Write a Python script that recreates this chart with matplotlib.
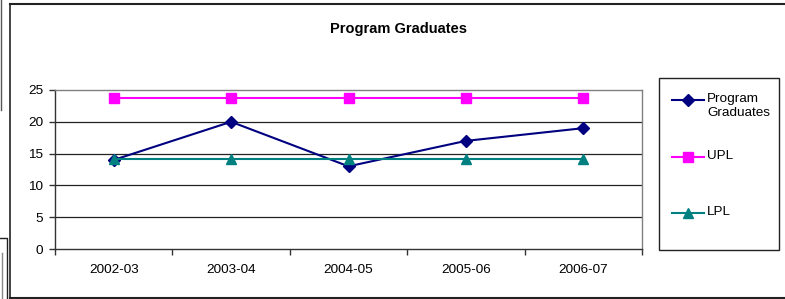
import matplotlib
matplotlib.use('Agg')
import matplotlib.pyplot as plt
from matplotlib.lines import Line2D
from matplotlib.patches import Rectangle

plt.rcParams['font.family'] = ['Liberation Sans', 'DejaVu Sans']

years = ["2002-03", "2003-04", "2004-05", "2005-06", "2006-07"]
graduates = [14, 20, 13, 17, 19]
upl = [23.7, 23.7, 23.7, 23.7, 23.7]
lpl = [14.2, 14.2, 14.2, 14.2, 14.2]

W, H = 785, 299
fig = plt.figure(figsize=(W / 100, H / 100), dpi=100)

def fx(px):
    return px / W

def fy(py):
    return 1 - py / H

# outer chart frame (right edge cut off)
fig.add_artist(Line2D([fx(10), fx(10)], [fy(4), fy(297.5)], color='#222222', lw=1.2))
fig.add_artist(Line2D([fx(10), 1.0], [fy(4), fy(4)], color='#222222', lw=1.5))
fig.add_artist(Line2D([fx(10), 1.0], [fy(297.5), fy(297.5)], color='#222222', lw=1.5))
# remnants of other boxes at left edge
fig.add_artist(Line2D([fx(1), fx(1)], [1.0, fy(110)], color='#555555', lw=1))
fig.add_artist(Line2D([0, fx(7), fx(7)], [fy(238), fy(238), 0], color='#222222', lw=1))
fig.add_artist(Line2D([fx(2), fx(2)], [fy(253), 0], color='#888888', lw=1))

ax = fig.add_axes([fx(55), fy(249), fx(642) - fx(55), (249 - 90) / H])
x = range(len(years))
ax.plot(x, graduates, color='#000080', lw=1.5, marker='D', ms=6, label='Program\nGraduates')
ax.plot(x, upl, color='#FF00FF', lw=1.5, marker='s', ms=6.8, label='UPL')
ax.plot(x, lpl, color='#008080', lw=1.5, marker='^', ms=7.5, label='LPL')

ax.set_xlim(-0.5, 4.5)
ax.set_ylim(0, 25)
ax.set_yticks([0, 5, 10, 15, 20, 25])
ax.set_xticks(list(x))
ax.set_xticklabels(years)
ax.set_xticks([i - 0.5 for i in range(6)], minor=True)
ax.tick_params(axis='x', which='major', length=0, pad=11, labelsize=9.7)
ax.tick_params(axis='x', which='minor', length=4, width=1, direction='out', color='#333333')
ax.tick_params(axis='y', length=4.5, width=1, direction='out', color='#333333', labelsize=9.7, pad=4)
for v in [5, 10, 15, 20]:
    ax.axhline(v, color='#222222', lw=0.9, zorder=0)
ax.spines['top'].set_color('#808080')
ax.spines['right'].set_color('#808080')
ax.spines['left'].set_color('#333333')
ax.spines['bottom'].set_color('#333333')
for s in ax.spines.values():
    s.set_linewidth(1)

fig.text(fx(398), fy(29), "Program Graduates", ha='center', va='center',
         fontsize=10.5, fontweight='bold')

# legend box drawn like the spreadsheet one
fig.add_artist(Rectangle((fx(659), fy(250)), fx(779) - fx(659), (250 - 78) / H,
                         fill=False, edgecolor='#222222', lw=1, transform=fig.transFigure))
handles = ax.get_lines()
leg_y = [100, 157, 213]
for h, yy in zip(handles, leg_y):
    fig.add_artist(Line2D([fx(672), fx(704)], [fy(yy), fy(yy)], color=h.get_color(), lw=1.5))
    fig.add_artist(Line2D([fx(688)], [fy(yy)], color=h.get_color(), marker=h.get_marker(),
                          ms=h.get_markersize(), lw=0))
    fig.text(fx(707), fy(yy - 7), h.get_label(), ha='left', va='top', fontsize=9.7,
             linespacing=1.25)

fig.savefig('out.png', dpi=100)
